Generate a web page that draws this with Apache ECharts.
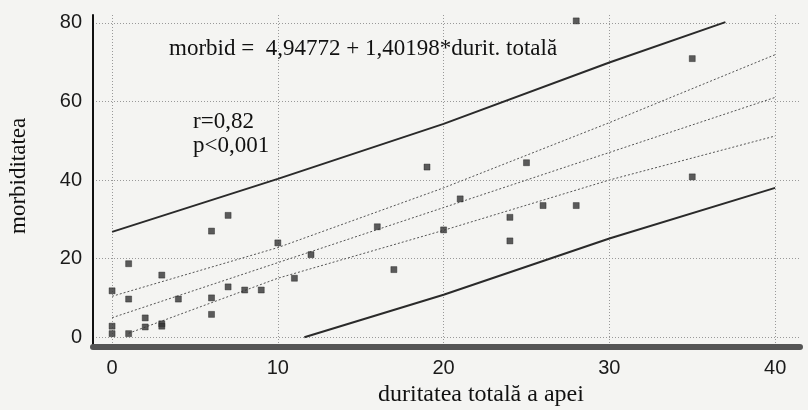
<!DOCTYPE html>
<html>
<head>
<meta charset="utf-8">
<script src="https://cdn.jsdelivr.net/npm/echarts@6/dist/echarts.min.js"></script>
<style>
html,body{margin:0;padding:0;background:#f4f4f2;}
#chart{width:808px;height:410px;}
</style>
</head>
<body>
<div id="chart"></div>
<script>
// ---- data ----
var xTicks = [0, 10, 20, 30, 40];
var yTicks = [0, 20, 40, 60, 80];
var points = [
  [0, 11.8], [0, 2.8], [0, 0.9], [1, 18.7], [1, 9.7], [1, 0.9],
  [2, 4.9], [2, 2.6], [3, 15.8], [3, 3.4], [3, 2.8], [4, 9.7],
  [6, 27.0], [6, 10.0], [6, 5.8], [7, 31.0], [7, 12.8], [8, 12.0],
  [9, 12.0], [10, 24.0], [11, 15.0], [12, 21.0], [16, 28.1], [17, 17.2],
  [19, 43.3], [20, 27.3], [21, 35.2], [24, 30.5], [24, 24.5], [25, 44.4],
  [26, 33.5], [28, 33.5], [28, 80.5], [35, 70.9], [35, 40.8]
];
var regression = [[0, 4.94772], [40, 61.02692]];
var ciUpper = [[0, 10.4], [10, 22.8], [20, 38.0], [30, 54.6], [40, 71.9]];
var ciLower = [[1, 1.0], [10, 15.0], [20, 27.2], [30, 40.0], [40, 51.2]];
var piUpper = [[0, 26.8], [10, 40.3], [20, 54.3], [30, 69.9], [37, 80.2]];
var piLower = [[11.6, 0], [20, 10.8], [30, 25.1], [40, 38.0]];
var equationText = 'morbid =  4,94772 + 1,40198*durit. totală';
var statText1 = 'r=0,82';
var statText2 = 'p<0,001';
var xTitle = 'duritatea totală a apei';
var yTitle = 'morbiditatea';

var chart = echarts.init(document.getElementById('chart'), null, {renderer: 'canvas'});
var serif = '"Liberation Serif", "DejaVu Serif", serif';
var sans = '"Liberation Sans", Arial, sans-serif';
var gridLine = {show: true, lineStyle: {color: '#999', width: 1, type: [1, 2]}};

function lineSeries(data, width, type, color) {
  return {
    type: 'line', data: data, symbol: 'none', silent: true, z: 3,
    lineStyle: {color: color, width: width, type: type}
  };
}

chart.setOption({
  backgroundColor: '#f4f4f2',
  animation: false,
  grid: {left: 93, right: 8, top: 15, bottom: 63},
  xAxis: {
    type: 'value', min: -1.15, max: 41.5,
    axisLine: {show: true, onZero: false, lineStyle: {color: '#555', width: 6}},
    axisTick: {show: false, customValues: xTicks},
    axisLabel: {customValues: xTicks, color: '#1a1a1a', fontSize: 20, fontFamily: sans, margin: 11},
    splitLine: gridLine
  },
  yAxis: {
    type: 'value', min: -2.5, max: 82,
    axisLine: {show: true, onZero: false, lineStyle: {color: '#111', width: 2}},
    axisTick: {show: false, customValues: yTicks},
    axisLabel: {customValues: yTicks, color: '#1a1a1a', fontSize: 20, fontFamily: sans, margin: 11},
    splitLine: gridLine
  },
  series: [
    lineSeries(piUpper, 2, 'solid', '#2a2a2a'),
    lineSeries(piLower, 2, 'solid', '#2a2a2a'),
    lineSeries(ciUpper, 1, [2, 2], '#555'),
    lineSeries(ciLower, 1, [2, 2], '#555'),
    lineSeries(regression, 1, [2, 2], '#555'),
    {
      type: 'scatter', data: points, symbol: 'rect', symbolSize: 6, z: 5,
      itemStyle: {color: '#333', borderColor: '#1a1a1a', borderWidth: 0.5}
    }
  ],
  graphic: [
    {type: 'text', left: 169, top: 37, style: {text: equationText, font: '23px ' + serif, fill: '#111'}},
    {type: 'text', left: 193, top: 110, style: {text: statText1, font: '23px ' + serif, fill: '#111'}},
    {type: 'text', left: 193, top: 134, style: {text: statText2, font: '23px ' + serif, fill: '#111'}},
    {type: 'text', left: 378, top: 383, style: {text: xTitle, font: '24px ' + serif, fill: '#111'}},
    {type: 'text', x: 7, y: 234, rotation: Math.PI / 2, style: {text: yTitle, font: '23px ' + serif, fill: '#111'}}
  ]
});
</script>
</body>
</html>
